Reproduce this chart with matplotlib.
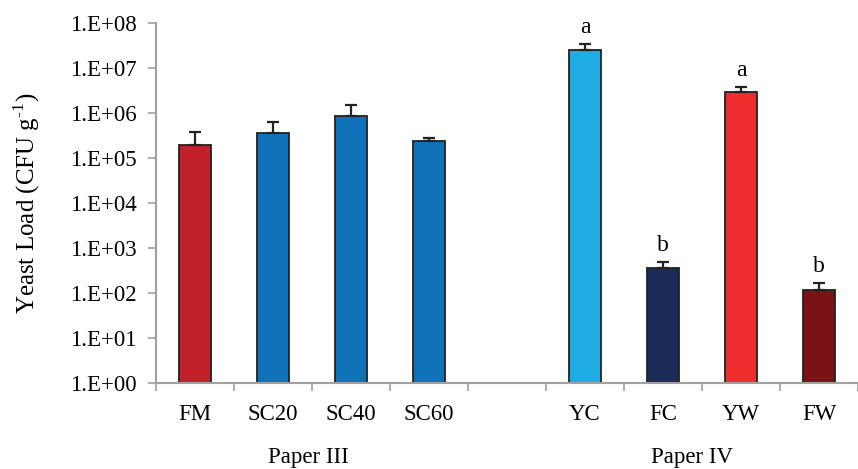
import numpy as np
import matplotlib
matplotlib.use('Agg')
import matplotlib.pyplot as plt

# values (CFU/g, log scale)
categories = ['FM', 'SC20', 'SC40', 'SC60', '', 'YC', 'FC', 'YW', 'FW']
means = [1.95e5, 3.6e5, 8.5e5, 2.4e5, np.nan, 2.5e7, 3.6e2, 2.9e6, 1.17e2]
err_up = [1.85e5, 2.7e5, 6.5e5, 0.4e5, np.nan, 1.0e7, 1.3e2, 0.9e6, 0.53e2]
letters = ['', '', '', '', '', 'a', 'b', 'a', 'b']
colors = ['#c1222a', '#0f72b9', '#0f72b9', '#0f72b9', 'none',
          '#1eace2', '#1b2b58', '#ee2d2e', '#7a1315']
groups = ['Paper III', 'Paper IV']

plt.rcParams['font.family'] = ['Liberation Serif', 'DejaVu Serif']
plt.rcParams['mathtext.fontset'] = 'custom'
plt.rcParams['mathtext.rm'] = 'Liberation Serif'

fig = plt.figure(figsize=(8.58, 4.69), dpi=100)
ax = fig.add_axes([156 / 858, 1 - 383 / 469, 1 - 156 / 858, (383 - 23) / 469])

x = np.arange(len(categories))
ax.bar(x, means, width=0.41, color=colors, edgecolor='#222222', linewidth=1.3,
       zorder=2)
ax.errorbar(x, means, yerr=[np.zeros(len(x)), err_up], fmt='none',
            ecolor='#222222', elinewidth=1.6, capsize=4.5, capthick=1.6, zorder=3)

for xi, m, e, t in zip(x, means, err_up, letters):
    if t:
        ax.text(xi, (m + e) * 1.35, t, ha='center', va='bottom', fontsize=17)

ax.set_yscale('log')
ax.set_ylim(1, 1e8)
ax.set_yticks([10.0 ** k for k in range(9)])
ax.set_yticklabels(['1.E+%02d' % k for k in range(9)])
ax.minorticks_off()
ax.set_xlim(-0.5, (858 - 156) / 78.7 - 0.5)

ax.set_xticks(x)
ax.set_xticklabels(categories)
ax.set_xticks(np.arange(-0.5, 8.6, 1.0), minor=True)
ax.tick_params(axis='x', which='major', length=0, pad=15, labelsize=16.5)
ax.tick_params(axis='x', which='minor', length=6, width=1.2, color='#a0a0a0')
ax.tick_params(axis='y', length=6, width=1.2, color='#a0a0a0', labelsize=16.5,
               pad=8)

for side in ['top', 'right']:
    ax.spines[side].set_visible(False)
for side in ['left', 'bottom']:
    ax.spines[side].set_color('#a0a0a0')
    ax.spines[side].set_linewidth(1.5)

ax.set_ylabel(r'Yeast Load (CFU g$^{\mathrm{\text{-}1}}$)', fontsize=18,
              labelpad=20)

fig.text(308 / 858, 1 - 457 / 469, groups[0], ha='center', va='center',
         fontsize=16.5)
fig.text(692 / 858, 1 - 457 / 469, groups[1], ha='center', va='center',
         fontsize=16.5)

fig.savefig('out.png', dpi=100)
